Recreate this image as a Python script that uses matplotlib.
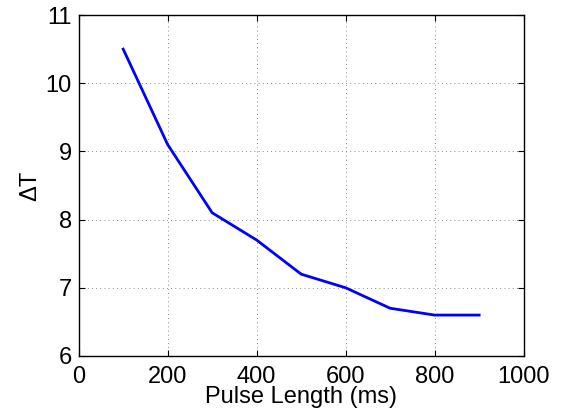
import matplotlib
matplotlib.use("Agg")
import matplotlib.pyplot as plt

# Dữ liệu
pulse_length = [100, 200, 300, 400, 500, 600, 700, 800, 900]
delta_t = [10.5, 9.1, 8.1, 7.7, 7.2, 7.0, 6.7, 6.6, 6.6]
x_ticks = [0, 200, 400, 600, 800, 1000]
y_ticks = [6, 7, 8, 9, 10, 11]

plt.rcParams['font.family'] = ['Liberation Sans', 'DejaVu Sans']

fig = plt.figure(figsize=(5.64, 4.17), dpi=100)
ax = fig.add_axes([0.1395, 0.1463, 0.789, 0.8177])
ax.plot(pulse_length, delta_t, color="#0000ff", linewidth=2.0)

ax.set_xlim(0, 1000)
ax.set_ylim(6, 11)
ax.set_xticks(x_ticks)
ax.set_yticks(y_ticks)
ax.tick_params(direction="in", top=True, right=True, labelsize=17, length=4, width=0.8)
ax.tick_params(axis="x", pad=7)
ax.tick_params(axis="y", pad=5)
ax.grid(True, linestyle=(0, (1, 4)), color="#666666", linewidth=0.6)
for s in ax.spines.values():
    s.set_linewidth(1.0)

ax.set_xlabel("Pulse Length (ms)", fontsize=17, labelpad=-1)
ax.set_ylabel("ΔT", fontsize=17, labelpad=3)

fig.savefig("out.png", dpi=100)
